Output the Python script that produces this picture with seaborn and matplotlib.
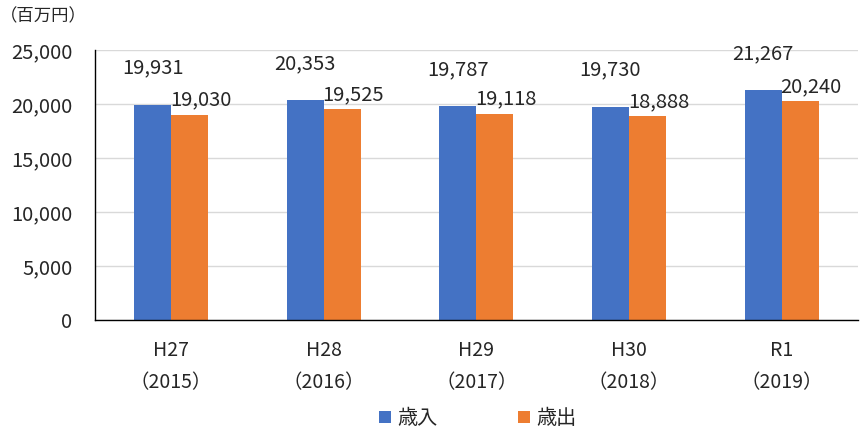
import matplotlib
matplotlib.use("Agg")
import matplotlib.pyplot as plt
import matplotlib.ticker as mticker
import pandas as pd
import seaborn as sns

# data
years = ["H27\n（2015）", "H28\n（2016）", "H29\n（2017）", "H30\n（2018）", "R1\n（2019）"]
revenue = [19931, 20353, 19787, 19730, 21267]      # 歳入
expenditure = [19030, 19525, 19118, 18888, 20240]  # 歳出
series_names = ["歳入", "歳出"]
colors = ["#4472C4", "#ED7D31"]

df = pd.DataFrame({
    "year": years * 2,
    "series": [series_names[0]] * len(years) + [series_names[1]] * len(years),
    "value": revenue + expenditure,
})

sns.set_theme(style="white")
plt.rcParams["font.family"] = ["Noto Sans CJK JP", "DejaVu Sans"]
plt.rcParams["font.size"] = 14.5

fig = plt.figure(figsize=(8.61, 4.28), dpi=100)
ax = fig.add_axes([0.110, 0.252, 0.8865, 0.631])

sns.barplot(data=df, x="year", y="value", hue="series", order=years,
            hue_order=series_names, palette=colors, width=0.485, gap=0,
            saturation=1, legend=True, ax=ax, linewidth=0)

ax.set_ylim(0, 25000)
ax.set_xlim(-0.5, len(years) - 0.5)
ax.yaxis.set_major_locator(mticker.MultipleLocator(5000))
ax.yaxis.set_major_formatter(mticker.FuncFormatter(lambda v, _: f"{int(v):,}"))
ax.grid(axis="y", color="#d9d9d9", linewidth=1)
ax.set_axisbelow(True)
ax.set_xlabel("")
ax.set_ylabel("")

for side in ["top", "right"]:
    ax.spines[side].set_visible(False)
for side in ["left", "bottom"]:
    ax.spines[side].set_color("black")
    ax.spines[side].set_linewidth(1)

ax.tick_params(axis="y", direction="in", length=5, width=1, color="black",
               labelsize=14.5, pad=16)
ax.tick_params(axis="x", which="major", length=0, labelsize=14, pad=14)
ax.set_xticks([i + 0.5 for i in range(len(years) - 1)], minor=True)
ax.tick_params(axis="x", which="minor", direction="in", length=6, width=1,
               color="black")
for lbl in ax.get_xticklabels():
    lbl.set_linespacing(1.7)

# value labels
offsets = [(0, 19), (8, 3)]
for container, (dx, dy) in zip(ax.containers, offsets):
    for bar in container:
        h = bar.get_height()
        ax.annotate(f"{int(round(h)):,}",
                    (bar.get_x() + bar.get_width() / 2, h),
                    xytext=(dx, dy), textcoords="offset points",
                    ha="center", va="bottom", fontsize=14.5)

ax.legend(loc="lower center", bbox_to_anchor=(0.555, -0.045), bbox_transform=fig.transFigure,
          ncol=2, frameon=False, fontsize=14.5, handlelength=0.6, handleheight=0.6,
          handletextpad=0.3, columnspacing=4.0)

fig.text(0.0, 0.962, "（百万円）", fontsize=12.5, ha="left", va="center")

fig.savefig("out.png", dpi=100)
